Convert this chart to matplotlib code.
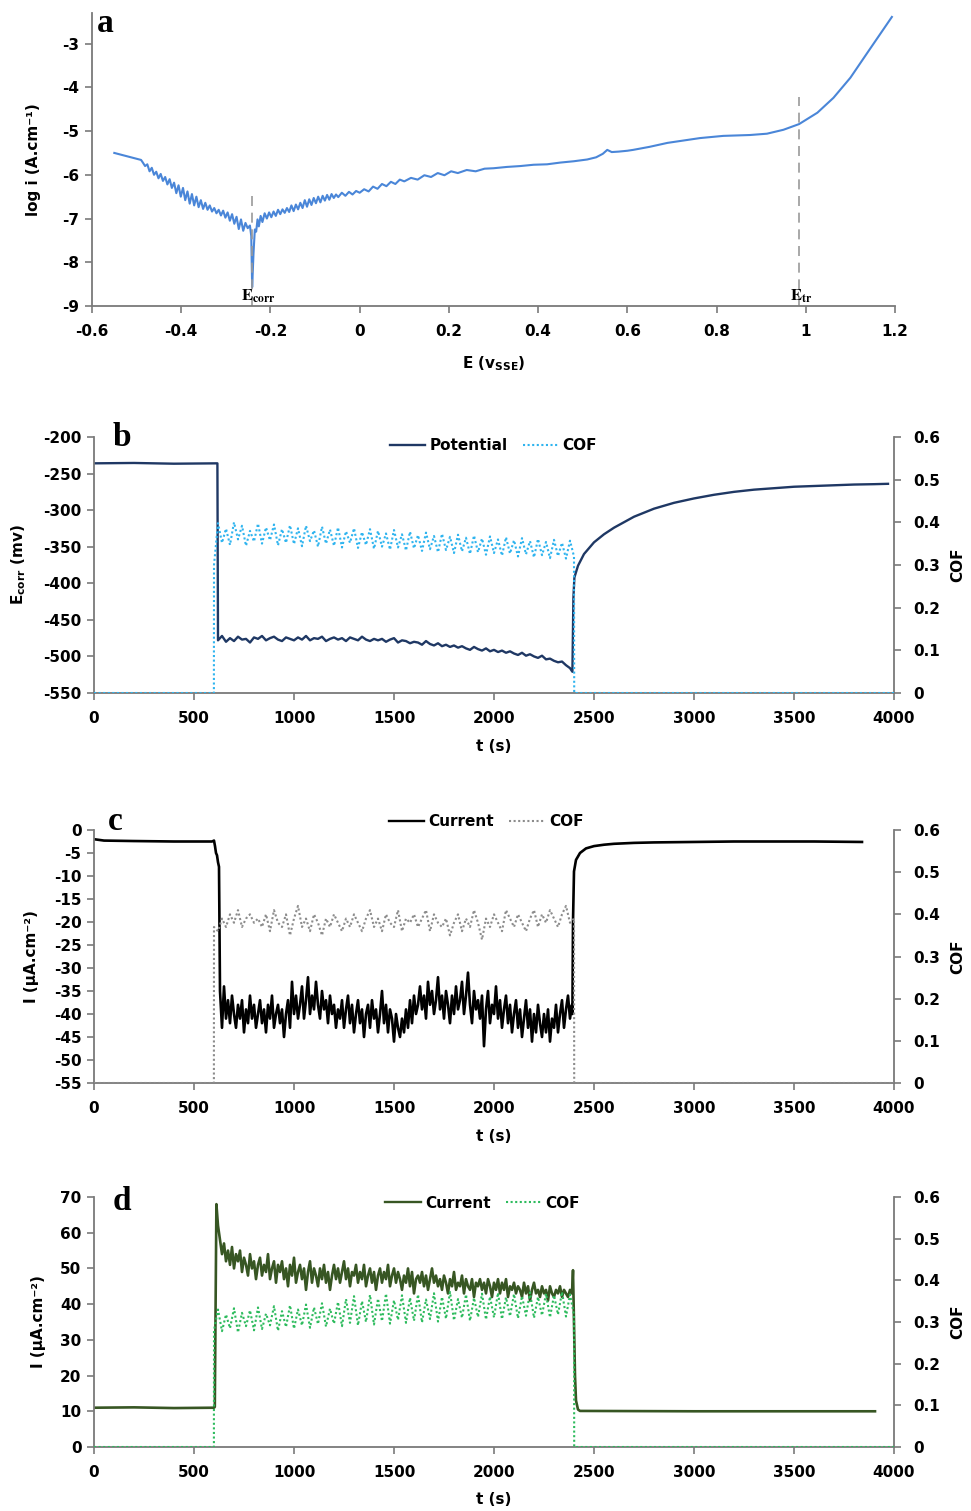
import numpy as np
import matplotlib
matplotlib.use("Agg")
import matplotlib.pyplot as plt
from matplotlib.lines import Line2D

plt.rcParams['font.family'] = ['DejaVu Sans']
plt.rcParams['font.weight'] = 'bold'
plt.rcParams['axes.unicode_minus'] = False

# ---------------- data: panel a (polarisation curve) ----------------
a_E = [-0.550, -0.490, -0.486, -0.481, -0.476, -0.471, -0.466, -0.461, -0.456, -0.451,
       -0.446, -0.441, -0.436, -0.431, -0.426, -0.421, -0.416, -0.411, -0.406, -0.401,
       -0.396, -0.391, -0.386, -0.381, -0.376, -0.371, -0.366, -0.361, -0.356, -0.351,
       -0.346, -0.341, -0.336, -0.331, -0.326, -0.321, -0.316, -0.311, -0.306, -0.301,
       -0.296, -0.291, -0.286, -0.281, -0.276, -0.271, -0.266, -0.261, -0.256, -0.251,
       -0.246, -0.243, -0.241, -0.238, -0.235, -0.232, -0.229, -0.226, -0.222, -0.218,
       -0.213, -0.208, -0.203, -0.198, -0.193, -0.188, -0.183, -0.178, -0.173, -0.168,
       -0.163, -0.158, -0.153, -0.148, -0.143, -0.138, -0.133, -0.128, -0.123, -0.118,
       -0.113, -0.108, -0.103, -0.098, -0.093, -0.088, -0.083, -0.078, -0.073, -0.068,
       -0.063, -0.058, -0.053, -0.048, -0.040, -0.032, -0.024, -0.016, -0.008, 0.000,
       0.010, 0.020, 0.030, 0.040, 0.050, 0.060, 0.070, 0.080, 0.090, 0.100,
       0.115, 0.130, 0.145, 0.160, 0.175, 0.190, 0.205, 0.220, 0.240, 0.260,
       0.280, 0.300, 0.330, 0.360, 0.390, 0.420, 0.450, 0.480, 0.510, 0.530,
       0.545, 0.555, 0.565, 0.580, 0.600, 0.613, 0.650, 0.690, 0.730, 0.763,
       0.815, 0.875, 0.913, 0.950, 0.985, 1.026, 1.062, 1.100, 1.138, 1.193]
a_logi = [-5.50, -5.66, -5.72, -5.80, -5.76, -5.92, -5.84, -6.00, -5.93, -6.08,
          -5.98, -6.14, -6.05, -6.22, -6.10, -6.30, -6.18, -6.42, -6.24, -6.50,
          -6.30, -6.58, -6.38, -6.66, -6.44, -6.70, -6.50, -6.74, -6.58, -6.78,
          -6.64, -6.80, -6.70, -6.84, -6.76, -6.88, -6.80, -6.93, -6.82, -6.98,
          -6.86, -7.05, -6.90, -7.12, -6.96, -7.24, -7.02, -7.28, -7.10, -7.22,
          -7.16, -7.40, -8.57, -7.80, -7.25, -7.30, -7.02, -7.18, -6.94, -7.08,
          -6.88, -7.00, -6.86, -6.97, -6.84, -6.94, -6.80, -6.90, -6.79, -6.87,
          -6.76, -6.85, -6.70, -6.83, -6.68, -6.79, -6.64, -6.76, -6.58, -6.73,
          -6.56, -6.69, -6.53, -6.65, -6.50, -6.63, -6.48, -6.59, -6.46, -6.57,
          -6.44, -6.53, -6.45, -6.51, -6.41, -6.48, -6.39, -6.45, -6.37, -6.41,
          -6.33, -6.38, -6.27, -6.32, -6.21, -6.26, -6.16, -6.21, -6.11, -6.15,
          -6.07, -6.11, -6.01, -6.05, -5.96, -6.01, -5.92, -5.96, -5.89, -5.92,
          -5.86, -5.85, -5.82, -5.80, -5.77, -5.76, -5.72, -5.69, -5.65, -5.60,
          -5.52, -5.43, -5.48, -5.47, -5.45, -5.43, -5.36, -5.27, -5.21, -5.16,
          -5.11, -5.09, -5.06, -4.97, -4.84, -4.58, -4.24, -3.78, -3.21, -2.39]
a_Ecorr = -0.241
a_Etr = 0.985
a_xticks = [-0.6, -0.4, -0.2, 0, 0.2, 0.4, 0.6, 0.8, 1.0, 1.2]
a_xticklabels = ['-0.6', '-0.4', '-0.2', '0', '0.2', '0.4', '0.6', '0.8', '1', '1.2']
a_yticks = [-9, -8, -7, -6, -5, -4, -3]

# ---------------- data: panel b (OCP + COF) ----------------
b_pre_t = [0, 200, 400, 617]
b_pre_v = [-236, -235.5, -236.5, -236]
b_slide_t0, b_slide_dt = 620, 20
b_slide_v = [-478, -472, -480, -475, -479, -473, -477, -476, -481, -474,
             -476, -472, -478, -475, -473, -477, -479, -474, -476, -478,
             -474, -477, -472, -478, -475, -476, -473, -479, -476, -474,
             -477, -475, -479, -474, -476, -478, -473, -477, -479, -476,
             -478, -476, -480, -477, -475, -481, -478, -479, -482, -480,
             -481, -484, -479, -483, -485, -482, -486, -484, -487, -485,
             -488, -486, -489, -491, -487, -490, -492, -489, -493, -491,
             -494, -492, -495, -493, -496, -498, -495, -499, -497, -500,
             -502, -499, -504, -503, -506, -508, -507, -512, -516]
b_post_t = [2392, 2397, 2402, 2420, 2450, 2500, 2550, 2600, 2700, 2800, 2900, 3000,
            3100, 3200, 3300, 3400, 3500, 3600, 3700, 3800, 3900, 3970]
b_post_v = [-521, -420, -392, -376, -360, -344, -333, -324, -309, -298, -290, -284,
            -279, -275, -272, -270, -268, -267, -266, -265, -264.5, -264]
b_cof_t0, b_cof_dt = 600, 20
b_cof = [0.300,
         0.398, 0.352, 0.385, 0.347, 0.400, 0.360, 0.392, 0.345, 0.380, 0.355,
         0.397, 0.350, 0.388, 0.358, 0.395, 0.346, 0.384, 0.352, 0.393, 0.349,
         0.386, 0.344, 0.392, 0.356, 0.381, 0.343, 0.390, 0.350, 0.383, 0.345,
         0.388, 0.341, 0.379, 0.352, 0.386, 0.340, 0.377, 0.347, 0.384, 0.338,
         0.380, 0.343, 0.374, 0.336, 0.382, 0.341, 0.372, 0.334, 0.378, 0.339,
         0.370, 0.333, 0.376, 0.337, 0.368, 0.330, 0.373, 0.335, 0.366, 0.328,
         0.371, 0.332, 0.364, 0.326, 0.369, 0.330, 0.362, 0.324, 0.367, 0.328,
         0.360, 0.322, 0.365, 0.327, 0.358, 0.320, 0.363, 0.325, 0.356, 0.318,
         0.361, 0.323, 0.354, 0.316, 0.359, 0.321, 0.352, 0.315, 0.357, 0.320]

# ---------------- data: panel c (current, cathodic) ----------------
c_pre_t = [0, 50, 200, 400, 590, 600, 605, 610, 615, 620, 625]
c_pre_v = [-2.0, -2.3, -2.4, -2.5, -2.5, -2.3, -3.5, -5.0, -5.5, -7.0, -8.0]
c_slide_t0, c_slide_dt = 630, 10
c_slide_v = [-35, -43, -34, -41, -37, -42, -36, -40, -43, -38,
             -41, -37, -44, -39, -42, -36, -41, -38, -43, -40,
             -37, -42, -39, -44, -38, -41, -36, -43, -40, -38,
             -42, -39, -45, -40, -37, -43, -33, -40, -36, -41,
             -38, -34, -41, -37, -32, -40, -36, -39, -33, -38,
             -41, -35, -39, -37, -42, -36, -40, -38, -43, -39,
             -41, -37, -43, -39, -36, -42, -38, -44, -40, -37,
             -42, -39, -45, -40, -38, -43, -37, -41, -39, -44,
             -40, -35, -42, -38, -44, -39, -41, -46, -40, -43,
             -45, -41, -44, -39, -43, -37, -42, -36, -40, -38,
             -34, -39, -36, -41, -33, -38, -35, -40, -37, -32,
             -39, -36, -41, -35, -38, -42, -36, -40, -34, -39,
             -37, -33, -40, -36, -31, -38, -42, -35, -39, -37,
             -41, -36, -47, -39, -35, -42, -38, -40, -34, -41,
             -37, -43, -39, -36, -42, -38, -44, -40, -37, -43,
             -39, -45, -41, -37, -43, -39, -46, -40, -44, -38,
             -42, -45, -40, -44, -39, -46, -41, -43, -38, -44,
             -40, -37, -43, -39, -36, -41, -38]
c_post_t = [2392, 2395, 2400, 2410, 2430, 2460, 2500, 2550, 2600, 2700, 2800, 3000,
            3200, 3400, 3600, 3840]
c_post_v = [-40, -20, -9, -6.5, -5, -4, -3.5, -3.2, -3.0, -2.8, -2.7, -2.6,
            -2.5, -2.5, -2.5, -2.6]
c_cof_t0, c_cof_dt = 600, 20
c_cof = [0.37,
         0.36, 0.39, 0.37, 0.40, 0.38, 0.41, 0.37, 0.39, 0.40, 0.38,
         0.39, 0.37, 0.40, 0.36, 0.41, 0.38, 0.37, 0.40, 0.35, 0.39,
         0.42, 0.37, 0.39, 0.36, 0.40, 0.38, 0.35, 0.39, 0.37, 0.40,
         0.38, 0.36, 0.39, 0.37, 0.40, 0.38, 0.36, 0.39, 0.41, 0.37,
         0.39, 0.36, 0.40, 0.38, 0.37, 0.41, 0.36, 0.39, 0.38, 0.40,
         0.37, 0.39, 0.41, 0.36, 0.40, 0.38, 0.37, 0.39, 0.35, 0.38,
         0.40, 0.36, 0.39, 0.37, 0.41, 0.38, 0.34, 0.39, 0.37, 0.40,
         0.38, 0.36, 0.41, 0.39, 0.37, 0.40, 0.38, 0.36, 0.39, 0.41,
         0.37, 0.40, 0.38, 0.41, 0.39, 0.37, 0.40, 0.42, 0.38, 0.39]

# ---------------- data: panel d (current, anodic) ----------------
d_pre_t = [0, 200, 400, 600, 604, 612, 620]
d_pre_v = [11.0, 11.1, 10.9, 11.0, 11.2, 68.0, 62.0]
d_slide_t0, d_slide_dt = 630, 10
d_slide_v = [58, 54, 57, 52, 55, 51, 56, 50, 54, 52,
             55, 49, 53, 51, 48, 54, 50, 52, 47, 51,
             53, 48, 51, 49, 54, 47, 50, 52, 46, 51,
             49, 52, 47, 50, 45, 51, 48, 53, 46, 49,
             51, 47, 50, 44, 49, 52, 46, 50, 48, 45,
             50, 47, 51, 46, 49, 44, 48, 51, 47, 50,
             46, 49, 52, 47, 50, 45, 49, 48, 51, 46,
             49, 47, 51, 45, 48, 50, 46, 49, 44, 48,
             50, 46, 49, 47, 51, 45, 48, 50, 46, 49,
             47, 44, 48, 46, 50, 45, 49, 43, 47, 48,
             46, 49, 45, 48, 44, 47, 50, 46, 48, 45,
             47, 44, 48, 46, 43, 47, 45, 49, 44, 46,
             45, 48, 43, 47, 45, 44, 47, 42, 46, 45,
             47, 44, 46, 43, 47, 45, 42, 46, 44, 47,
             43, 46, 44, 47, 42, 45, 44, 46, 43, 45,
             44, 42, 46, 43, 45, 41, 44, 46, 43, 44,
             42, 45, 43, 44, 41, 45, 43, 42, 44, 43,
             45, 42, 44, 43, 42, 44, 43]
d_post_t = [2395, 2398, 2405, 2410, 2420, 2430, 3000, 3500, 3905]
d_post_v = [49.5, 41, 20, 13, 10.5, 10.1, 10.0, 10.0, 10.0]
d_cof_t0, d_cof_dt = 600, 20
d_cof = [0.280,
         0.330, 0.278, 0.318, 0.285, 0.333, 0.275, 0.322, 0.290, 0.328, 0.280,
         0.335, 0.283, 0.320, 0.292, 0.338, 0.279, 0.326, 0.288, 0.340, 0.284,
         0.330, 0.292, 0.342, 0.286, 0.335, 0.295, 0.345, 0.289, 0.332, 0.296,
         0.348, 0.290, 0.355, 0.298, 0.362, 0.292, 0.350, 0.300, 0.365, 0.294,
         0.356, 0.302, 0.368, 0.296, 0.352, 0.305, 0.364, 0.298, 0.358, 0.303,
         0.366, 0.299, 0.354, 0.307, 0.369, 0.301, 0.360, 0.308, 0.372, 0.304,
         0.355, 0.310, 0.366, 0.303, 0.358, 0.312, 0.368, 0.306, 0.361, 0.311,
         0.370, 0.307, 0.359, 0.314, 0.367, 0.309, 0.362, 0.315, 0.371, 0.310,
         0.360, 0.316, 0.368, 0.311, 0.364, 0.318, 0.372, 0.313, 0.366, 0.317]

t_ticks = [0, 500, 1000, 1500, 2000, 2500, 3000, 3500, 4000]
cof_ticks = [0, 0.1, 0.2, 0.3, 0.4, 0.5, 0.6]
cof_ticklabels = ['0', '0.1', '0.2', '0.3', '0.4', '0.5', '0.6']

# ---------------- helpers ----------------
SPINE = '#7a7a7a'
FS = 11


def series(pre_t, pre_v, t0, dt, vals, post_t, post_v):
    st = t0 + dt * np.arange(len(vals))
    return (np.concatenate([pre_t, st, post_t]),
            np.concatenate([pre_v, vals, post_v]))


def cof_series(t0, dt, vals, t_end=4000):
    st = t0 + dt * np.arange(len(vals))
    t = np.concatenate([[0, t0 - 0.5], st, [st[-1] + 1, t_end]])
    v = np.concatenate([[0, 0], vals, [0, 0]])
    return t, v


def style_axis(ax, right=False):
    for s in ['top', 'right', 'left', 'bottom']:
        ax.spines[s].set_visible(False)
    ax.spines['bottom'].set_visible(not right)
    ax.spines['left'].set_visible(not right)
    ax.spines['right'].set_visible(right)
    for s in ax.spines.values():
        s.set_color(SPINE)
        s.set_linewidth(1.3)
    ax.tick_params(axis='both', direction='out', length=5, width=1.2, color=SPINE,
                   labelsize=FS, pad=4)
    for lab in ax.get_xticklabels() + ax.get_yticklabels():
        lab.set_fontweight('bold')


W, H = 971, 1511
fig = plt.figure(figsize=(W / 100, H / 100), dpi=100)


def axes_px(x0, x1, y0, y1):
    return fig.add_axes([x0 / W, 1 - y1 / H, (x1 - x0) / W, (y1 - y0) / H])


# ================= panel a =================
ax = axes_px(92, 895, 13, 306)
ax.plot(a_E, a_logi, color='#4a86d8', lw=1.5)
ax.plot([a_Ecorr, a_Ecorr], [-9, -6.35], color='#9a9a9a', lw=1.2, ls=(0, (6, 4)))
ax.plot([a_Etr, a_Etr], [-9, -4.22], color='#9a9a9a', lw=1.2, ls=(0, (6, 4)))
ax.set_xlim(-0.6, 1.2)
ax.set_ylim(-9, -2.3)
ax.set_xticks(a_xticks)
ax.set_xticklabels(a_xticklabels)
ax.set_yticks(a_yticks)
style_axis(ax)
ax.tick_params(axis='x', pad=8)
ax.text(-0.228, -8.78, r'$\mathbf{E_{corr}}$', math_fontfamily='stix', fontsize=12,
        ha='center', va='center')
ax.text(0.99, -8.76, r'$\mathbf{E_{tr}}$', math_fontfamily='stix', fontsize=12,
        ha='center', va='center')
ax.set_xlabel(r'E (v$_{\mathbf{SSE}}$)', fontsize=FS, fontweight='bold')
ax.set_ylabel('log i (A.cm⁻¹)', fontsize=FS, fontweight='bold')
ax.xaxis.set_label_coords(0.5, -0.165)
ax.yaxis.set_label_coords(-0.063, 0.5)
ax.xaxis.label.set_va('top')


def twin_panel(y0, y1, ylim, yticks, ylabel, main_t, main_v, main_color,
               cof_t, cof_v, cof_color, main_name, leg_xy, letter, letter_xy,
               ylabel_x, main_lw=1.7):
    ax = axes_px(94, 894, y0, y1)
    ax.plot(main_t, main_v, color=main_color, lw=main_lw, zorder=2)
    ax.set_xlim(0, 4000)
    ax.set_ylim(*ylim)
    ax.set_xticks(t_ticks)
    ax.set_yticks(yticks)
    style_axis(ax)
    ax.tick_params(axis='x', pad=8)
    ax2 = ax.twinx()
    ax2.plot(cof_t, cof_v, color=cof_color, lw=1.5, ls=(0, (1, 1.2)), zorder=3)
    ax2.set_ylim(0, 0.6)
    ax2.set_yticks(cof_ticks)
    ax2.set_yticklabels(cof_ticklabels)
    style_axis(ax2, right=True)
    ax2.tick_params(axis='y', pad=9)
    ax2.set_ylabel('COF', fontsize=FS, fontweight='bold')
    ax2.yaxis.set_label_coords(1.07, 0.5)
    ax.set_xlabel('t (s)', fontsize=FS, fontweight='bold')
    ax.xaxis.set_label_coords(0.5, -0.18)
    ax.xaxis.label.set_va('top')
    ax.set_ylabel(ylabel, fontsize=FS, fontweight='bold')
    ax.yaxis.set_label_coords(ylabel_x, 0.5)
    handles = [Line2D([], [], color=main_color, lw=1.7),
               Line2D([], [], color=cof_color, lw=1.5, ls=(0, (1, 1.2)))]
    ax2.legend(handles, [main_name, 'COF'], loc='center', bbox_to_anchor=leg_xy,
               ncol=2, frameon=False, handlelength=2.3, handletextpad=0.3,
               columnspacing=1.0, prop={'weight': 'bold', 'size': FS})
    fig.text(letter_xy[0] / W, 1 - letter_xy[1] / H, letter, family='Liberation Serif',
             fontweight='bold', fontsize=24, ha='center', va='center')
    return ax, ax2


fig.text(105 / W, 1 - 24 / H, 'a', family='Liberation Serif', fontweight='bold',
         fontsize=24, ha='center', va='center')

# ================= panel b =================
bt, bv = series(b_pre_t, b_pre_v, b_slide_t0, b_slide_dt, b_slide_v, b_post_t, b_post_v)
bct, bcv = cof_series(b_cof_t0, b_cof_dt, b_cof)
twin_panel(437, 693, (-550, -200), list(range(-550, -199, 50)),
           r'E$_{\mathbf{corr}}$ (mv)', bt, bv, '#1f3864', bct, bcv, '#2fb4ef',
           'Potential', (0.499, 0.965), 'b', (122, 438), -0.083)

# ================= panel c =================
ct, cv = series(c_pre_t, c_pre_v, c_slide_t0, c_slide_dt, c_slide_v, c_post_t, c_post_v)
cct, ccv = cof_series(c_cof_t0, c_cof_dt, c_cof)
twin_panel(830, 1083, (-55, 0), list(range(-55, 1, 5)),
           'I (μA.cm⁻²)', ct, cv, '#000000', cct, ccv, '#8c8c8c',
           'Current', (0.49, 1.032), 'c', (115, 822), -0.069, main_lw=1.9)

# ================= panel d =================
dt_, dv = series(d_pre_t, d_pre_v, d_slide_t0, d_slide_dt, d_slide_v, d_post_t, d_post_v)
dct, dcv = cof_series(d_cof_t0, d_cof_dt, d_cof)
twin_panel(1197, 1447, (0, 70), list(range(0, 71, 10)),
           'I (μA.cm⁻²)', dt_, dv, '#375623', dct, dcv, '#2dbb5d',
           'Current', (0.486, 0.976), 'd', (122, 1202), -0.06, main_lw=1.9)

fig.savefig('out.png', dpi=100)
